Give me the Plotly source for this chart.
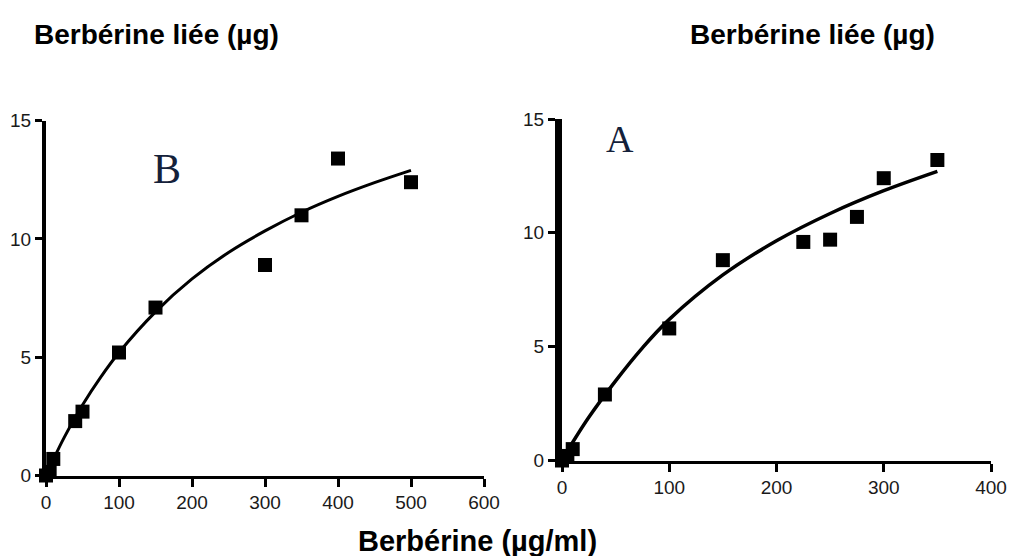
import plotly.graph_objects as go

# ---- Data ----
# Panel B (left)
b_x = [0, 5, 10, 40, 50, 100, 150, 300, 350, 400, 500]
b_y = [0.0, 0.15, 0.7, 2.3, 2.7, 5.2, 7.1, 8.9, 11.0, 13.4, 12.4]
b_fit_x = [0, 10, 25, 50, 75, 100, 150, 200, 250, 300, 350, 400, 450, 500]
b_fit_y = [0.0, 0.67, 1.61, 2.98, 4.16, 5.2, 6.92, 8.31, 9.43, 10.34, 11.13, 11.8, 12.38, 12.9]

# Panel A (right)
a_x = [0, 5, 10, 40, 100, 150, 225, 250, 275, 300, 350]
a_y = [0.0, 0.2, 0.5, 2.9, 5.8, 8.8, 9.6, 9.7, 10.7, 12.4, 13.2]
a_fit_x = [0, 10, 25, 50, 75, 100, 150, 200, 250, 300, 350]
a_fit_y = [0.0, 0.8, 1.9, 3.5, 4.95, 6.2, 8.15, 9.65, 10.85, 11.85, 12.7]

b_xticks = [0, 100, 200, 300, 400, 500, 600]
a_xticks = [0, 100, 200, 300, 400]
y_ticks = [0, 5, 10, 15]

# The page body has an 8px margin, so the figure is drawn 8px in from the corner.
OFF = 8
W, H = 1016 - OFF, 556 - OFF

fig = go.Figure()

# Left panel (B)
fig.add_trace(go.Scatter(x=b_fit_x, y=b_fit_y, mode="lines", line=dict(color="black", width=3, shape="spline"),
                         xaxis="x", yaxis="y", cliponaxis=False, hoverinfo="skip"))
fig.add_trace(go.Scatter(x=b_x, y=b_y, mode="markers", marker=dict(symbol="square", size=14, color="black"),
                         xaxis="x", yaxis="y", cliponaxis=False))
# Right panel (A)
fig.add_trace(go.Scatter(x=a_fit_x, y=a_fit_y, mode="lines", line=dict(color="black", width=3.5, shape="spline"),
                         xaxis="x2", yaxis="y2", cliponaxis=False, hoverinfo="skip"))
fig.add_trace(go.Scatter(x=a_x, y=a_y, mode="markers", marker=dict(symbol="square", size=14, color="black"),
                         xaxis="x2", yaxis="y2", cliponaxis=False))

tickfont = dict(family="Liberation Sans Narrow, Arial Narrow, Liberation Sans, sans-serif", size=19, color="#1a1a1a")

def px_x(p):
    return (p - OFF) / W

def px_y(p):
    return 1 - (p - OFF) / H

common_x = dict(showgrid=False, zeroline=False, showline=True, linecolor="black", automargin=False,
                ticklabeloverflow="allow",
                ticks="outside", tickcolor="black", ticklen=8, tickwidth=3, tickfont=tickfont)
common_y = dict(showgrid=False, zeroline=False, showline=True, linecolor="black", automargin=False,
                ticklabeloverflow="allow",
                ticks="outside", tickcolor="black", ticklen=7, tickwidth=3, tickfont=tickfont,
                tickvals=y_ticks, ticktext=[str(v) for v in y_ticks])

fig.update_layout(
    width=W, height=H,
    margin=dict(l=0, r=0, t=0, b=0, autoexpand=False),
    paper_bgcolor="white", plot_bgcolor="white",
    showlegend=False,
    xaxis=dict(domain=[px_x(46), px_x(484)], range=[0, 600], anchor="y",
               tickvals=b_xticks, ticktext=[str(v) for v in b_xticks], linewidth=3, **common_x),
    yaxis=dict(domain=[px_y(475.5), px_y(120.7)], range=[0, 15], anchor="x", linewidth=4, **common_y),
    xaxis2=dict(domain=[px_x(562), px_x(991)], range=[0, 400], anchor="y2",
                tickvals=a_xticks, ticktext=[str(v) for v in a_xticks], linewidth=3, **common_x),
    yaxis2=dict(domain=[px_y(460.5), px_y(119)], range=[0, 15], anchor="x2", linewidth=7, **common_y),
    annotations=[
        dict(text="<b>Berbérine liée (µg)</b>", x=px_x(156), y=px_y(34), xref="paper", yref="paper",
             showarrow=False, xanchor="center", yanchor="middle",
             font=dict(family="Liberation Sans, Arial, sans-serif", size=28, color="black")),
        dict(text="<b>Berbérine liée (µg)</b>", x=px_x(812), y=px_y(34), xref="paper", yref="paper",
             showarrow=False, xanchor="center", yanchor="middle",
             font=dict(family="Liberation Sans, Arial, sans-serif", size=28, color="black")),
        dict(text="<b>Berbérine (µg/ml)</b>", x=px_x(477), y=px_y(541), xref="paper", yref="paper",
             showarrow=False, xanchor="center", yanchor="middle",
             font=dict(family="Liberation Sans, Arial, sans-serif", size=29, color="black")),
        dict(text="B", x=px_x(167), y=px_y(169), xref="paper", yref="paper",
             showarrow=False, xanchor="center", yanchor="middle",
             font=dict(family="Liberation Serif, Times New Roman, serif", size=42, color="#14213a")),
        dict(text="A", x=px_x(620), y=px_y(139), xref="paper", yref="paper",
             showarrow=False, xanchor="center", yanchor="middle",
             font=dict(family="Liberation Serif, Times New Roman, serif", size=38, color="#14213a")),
    ],
)

fig.write_html("out.html")
